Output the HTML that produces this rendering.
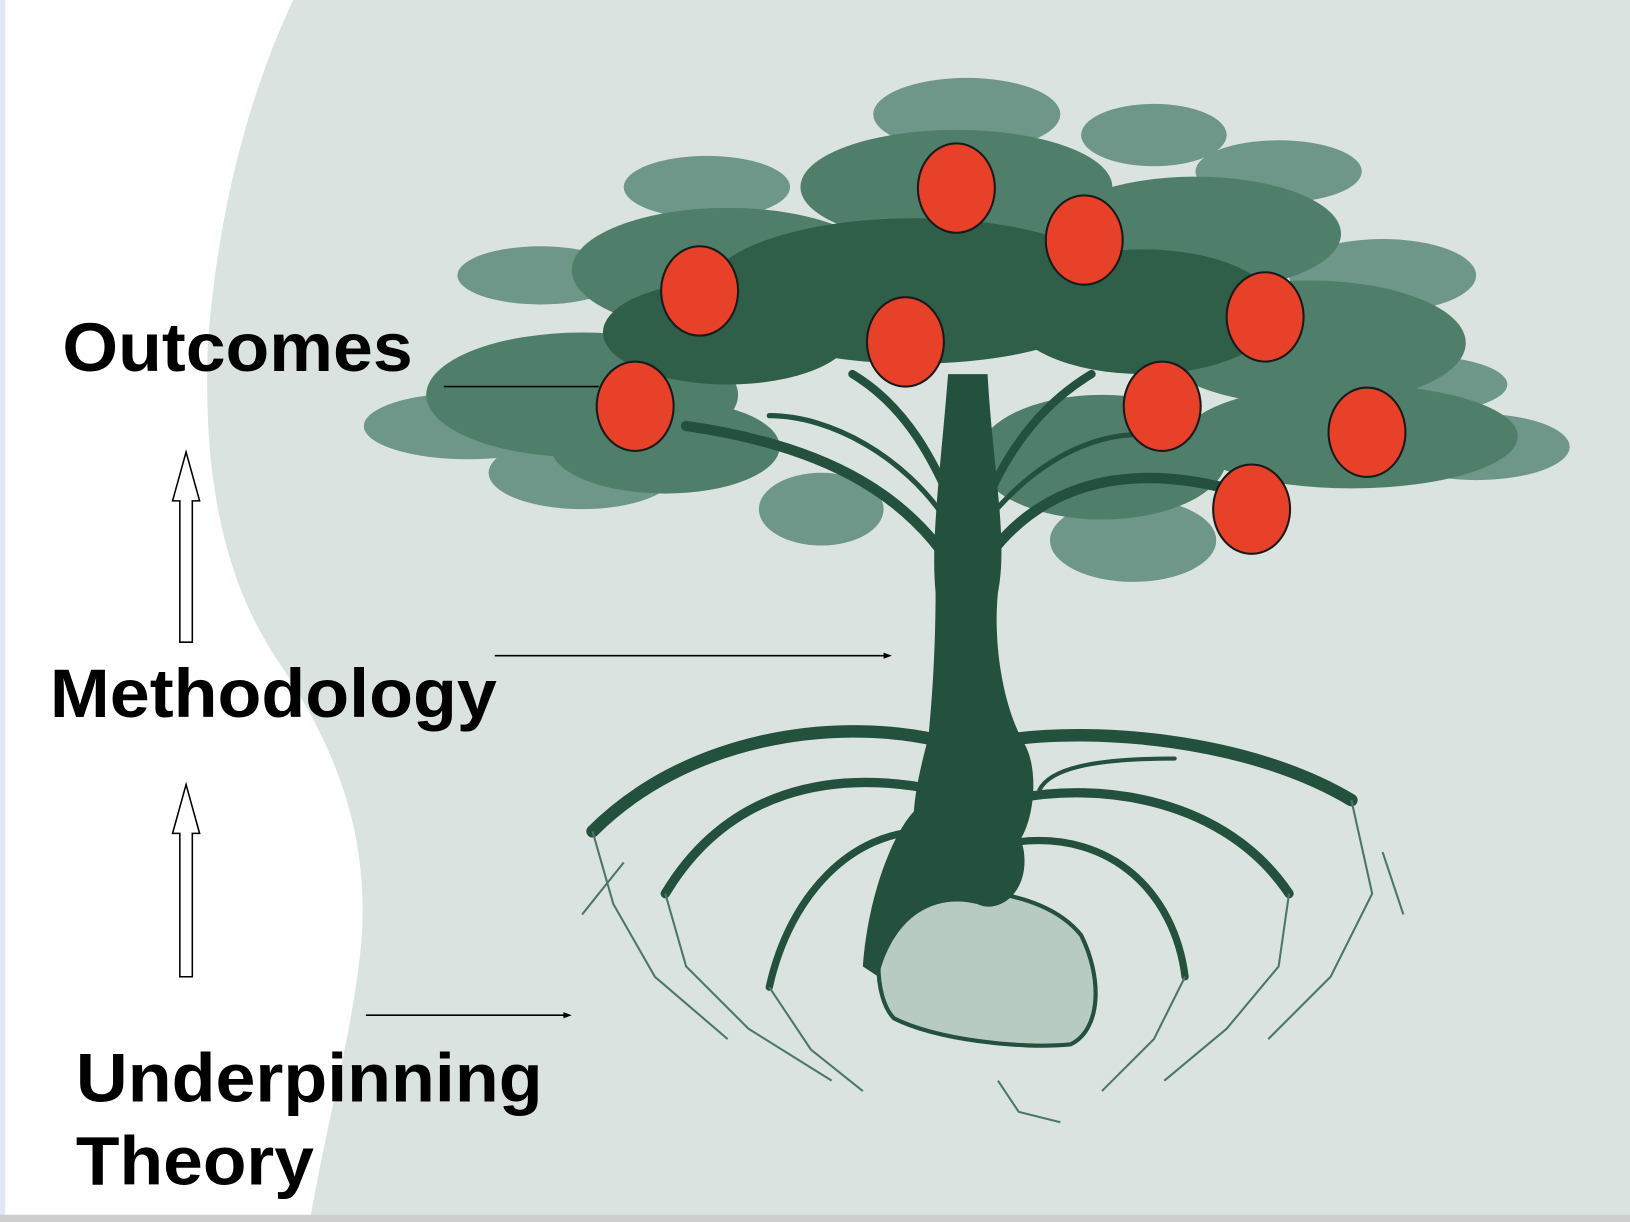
<!DOCTYPE html>
<html><head><meta charset="utf-8"><style>html,body{margin:0;padding:0;background:#fff}svg{display:block}</style></head>
<body>
<svg width="1630" height="1222" viewBox="0 0 1568 1176" preserveAspectRatio="none" xmlns="http://www.w3.org/2000/svg">
<rect width="1568" height="1176" fill="#dae3e0"/>
<path d="M0 0 L282 0 C240 90 210 200 200 330 C195 460 215 560 270 640 C330 730 360 820 345 930 C335 1010 310 1100 298 1176 L0 1176 Z" fill="#fff"/>
<rect x="0" y="0" width="5" height="1176" fill="#e1e8f3"/>
<rect x="0" y="1169" width="1568" height="7" fill="#cfcfcf"/>
<g fill="#6e978a">
<ellipse cx="930" cy="110" rx="90" ry="35"/><ellipse cx="1110" cy="130" rx="70" ry="30"/>
<ellipse cx="680" cy="180" rx="80" ry="30"/><ellipse cx="1230" cy="165" rx="80" ry="30"/>
<ellipse cx="520" cy="265" rx="80" ry="28"/><ellipse cx="1330" cy="265" rx="90" ry="35"/>
<ellipse cx="450" cy="410" rx="100" ry="32"/><ellipse cx="1420" cy="430" rx="90" ry="32"/>
<ellipse cx="560" cy="455" rx="90" ry="35"/><ellipse cx="1090" cy="520" rx="80" ry="40"/>
<ellipse cx="790" cy="490" rx="60" ry="35"/><ellipse cx="1360" cy="370" rx="90" ry="28"/>
</g>
<g fill="#4f7f6b">
<ellipse cx="700" cy="260" rx="150" ry="60"/><ellipse cx="920" cy="180" rx="150" ry="55"/>
<ellipse cx="1150" cy="225" rx="140" ry="55"/><ellipse cx="1260" cy="330" rx="150" ry="60"/>
<ellipse cx="560" cy="380" rx="150" ry="60"/><ellipse cx="1300" cy="420" rx="160" ry="50"/>
<ellipse cx="640" cy="430" rx="110" ry="45"/><ellipse cx="1060" cy="440" rx="120" ry="60"/>
</g>
<g fill="#2f5e49">
<ellipse cx="880" cy="280" rx="200" ry="70"/><ellipse cx="1100" cy="300" rx="130" ry="60"/>
<ellipse cx="700" cy="320" rx="120" ry="50"/>
</g>
<path d="M912 360 L950 360 C955 450 970 520 960 570 C955 620 965 680 985 715 C1000 740 995 790 980 810 L880 810 C875 780 885 740 893 710 C898 660 900 610 900 570 C895 520 905 450 912 360 Z" fill="#23513d"/>
<g fill="none" stroke="#23513d" stroke-linecap="round">
<path d="M925 560 C880 480 800 430 660 410" stroke-width="10"/>
<path d="M935 560 C980 480 1060 440 1180 470" stroke-width="10"/>
<path d="M930 520 C900 440 870 390 820 360" stroke-width="8"/>
<path d="M935 520 C960 440 1000 390 1050 360" stroke-width="8"/>
<path d="M910 500 C870 440 800 400 740 400" stroke-width="5"/>
<path d="M950 500 C1000 440 1060 410 1120 420" stroke-width="5"/>
<path d="M900 712 C800 690 660 710 570 800" stroke-width="12"/>
<path d="M970 712 C1050 700 1200 710 1300 770" stroke-width="12"/>
<path d="M900 760 C800 740 700 760 640 860" stroke-width="9"/>
<path d="M970 770 C1060 750 1180 770 1240 860" stroke-width="9"/>
<path d="M890 800 C820 800 760 860 740 950" stroke-width="7"/>
<path d="M980 810 C1070 800 1130 860 1140 940" stroke-width="7"/>
<path d="M1000 760 C1010 740 1050 730 1130 730" stroke-width="4"/>
</g>
<g fill="none" stroke="#4b7766" stroke-width="2">
<path d="M570 800 L590 870 L630 940 L700 1000"/><path d="M640 860 L660 930 L720 990 L800 1040"/>
<path d="M740 950 L780 1010 L830 1050"/><path d="M1300 770 L1320 860 L1280 940 L1220 1000"/>
<path d="M1240 860 L1230 930 L1180 990 L1120 1040"/><path d="M1140 940 L1110 1000 L1060 1050"/>
<path d="M600 830 L560 880"/><path d="M1330 820 L1350 880"/><path d="M960 1040 L980 1070 L1020 1080"/>
</g>
<path d="M860 870 C900 850 1000 850 1040 900 C1060 940 1060 990 1030 1005 C980 1010 900 1000 860 980 C840 960 840 900 860 870 Z" fill="#b8cbc3" stroke="#23513d" stroke-width="4"/>
<path d="M880 780 C920 760 980 780 985 820 C990 860 960 880 940 870 C900 860 860 880 845 940 L830 930 C835 860 860 800 880 780 Z" fill="#23513d"/>
<g fill="#e8412a" stroke="#1a1a1a" stroke-width="2">
<ellipse cx="920" cy="181" rx="37" ry="43"/><ellipse cx="1043" cy="231" rx="37" ry="43"/>
<ellipse cx="673" cy="280" rx="37" ry="43"/><ellipse cx="871" cy="329" rx="37" ry="43"/>
<ellipse cx="1217" cy="305" rx="37" ry="43"/><ellipse cx="611" cy="391" rx="37" ry="43"/>
<ellipse cx="1118" cy="391" rx="37" ry="43"/><ellipse cx="1315" cy="416" rx="37" ry="43"/>
<ellipse cx="1204" cy="490" rx="37" ry="43"/>
</g>
<g stroke="#000" stroke-width="1.5">
<line x1="427" y1="372" x2="576" y2="372"/>
<line x1="476" y1="631" x2="852" y2="631"/>
<line x1="352" y1="977" x2="544" y2="977"/>
</g>
<path d="M858 631 L850 628 L850 634 Z M550 977 L542 974 L542 980 Z"/>
<g fill="#fff" stroke="#000" stroke-width="1.5">
<path d="M173 618 L185 618 L185 482 L192 482 L179 435 L166 482 L173 482 Z"/>
<path d="M173 940 L185 940 L185 802 L192 802 L179 755 L166 802 L173 802 Z"/>
</g>
<g font-family="Liberation Sans, Arial, sans-serif" font-weight="bold" font-size="66" fill="#000">
<text x="60" y="357" textLength="337" lengthAdjust="spacingAndGlyphs">Outcomes</text>
<text x="48" y="690" textLength="430" lengthAdjust="spacingAndGlyphs">Methodology</text>
<text x="73" y="1060" textLength="449" lengthAdjust="spacingAndGlyphs">Underpinning</text>
<text x="73" y="1140" textLength="229" lengthAdjust="spacingAndGlyphs">Theory</text>
</g>
</svg>
</body></html>
